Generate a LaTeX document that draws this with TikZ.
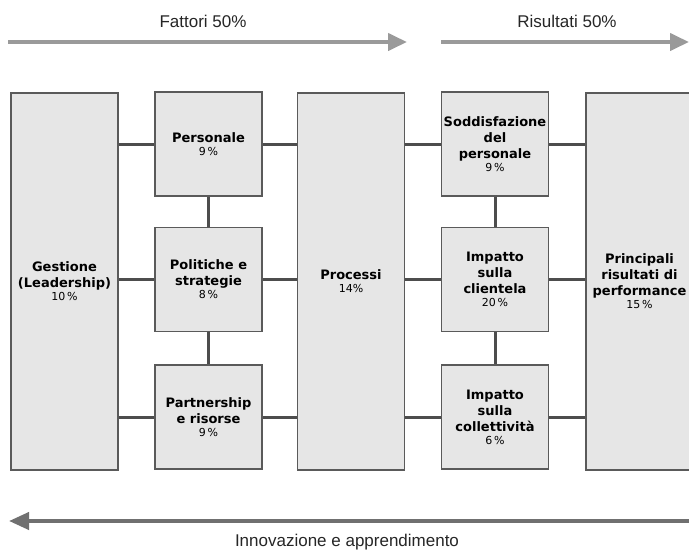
\documentclass[tikz,border=0pt]{standalone}
\usepackage{fontspec}
\setmainfont{Liberation Sans}
\newfontfamily\boxfont{DejaVu Sans}
\usetikzlibrary{arrows.meta}
\definecolor{boxfill}{HTML}{E6E6E6}
\definecolor{boxline}{HTML}{5A5A5A}
\definecolor{linkcol}{HTML}{4D4D4D}
\definecolor{toparrowcol}{HTML}{9A9A9A}
\definecolor{botarrowcol}{HTML}{707070}
\newcommand\pcfont{\mdseries\fontsize{11}{13}\selectfont}
\begin{document}
\begin{tikzpicture}[x=1pt,y=-1pt,
  box/.style={draw=boxline, line width=1.5pt, fill=boxfill, minimum width=107pt,
    inner sep=0pt, align=center, font=\boxfont\bfseries\fontsize{13}{16}\selectfont},
  smallbox/.style={box, minimum height=104pt},
  bigbox/.style={box, minimum height=377pt},
  link/.style={draw=linkcol, line width=3pt},
  toparrow/.style={draw=toparrowcol, line width=4pt, -{Triangle[length=19pt,width=17pt]}},
  botarrow/.style={draw=botarrowcol, line width=4pt, -{Triangle[length=20pt,width=17pt]}},
  lbl/.style={font=\fontsize{17}{20}\selectfont, text=black!85}
]
\useasboundingbox (0,0) rectangle (689,552);
\clip (0,0) rectangle (689,552);
\fill[white] (0,0) rectangle (689,552);

% top arrows
\coordinate (f1) at (8,42);
\coordinate (f2) at (407,42);
\coordinate (r1) at (441,42);
\coordinate (r2) at (689,42);
\draw[toparrow] (f1) -- (f2);
\draw[toparrow] (r1) -- (r2);
\node[lbl] (fatt) at (203,21) {Fattori 50\%};
\node[lbl] (ris) at (567,21) {Risultati 50\%};

% boxes
\node[bigbox] (gest) at (64.5,281.5) {Gestione\\(Leadership)\\[-3pt]{\pcfont 10\,\%}};
\node[smallbox] (pers) at (208.5,144) {Personale\\[-3pt]{\pcfont 9\,\%}};
\node[smallbox] (pol) at (208.5,279.5) {Politiche e\\strategie\\[-3pt]{\pcfont 8\,\%}};
\node[smallbox] (part) at (208.5,417) {Partnership\\e risorse\\[-3pt]{\pcfont 9\,\%}};
\node[bigbox] (proc) at (351,281.5) {Processi\\[-3pt]{\pcfont 14\%}};
\node[smallbox] (sodd) at (495,144) {Soddisfazione\\del\\personale\\[-3pt]{\pcfont 9\,\%}};
\node[smallbox] (clien) at (495,279.5) {Impatto\\sulla\\clientela\\[-3pt]{\pcfont 20\,\%}};
\node[smallbox] (coll) at (495,417) {Impatto\\sulla\\collettività\\[-3pt]{\pcfont 6\,\%}};
\node[bigbox] (princ) at (639.5,281.5) {Principali\\risultati di\\performance\\[-3pt]{\pcfont 15\,\%}};

% connectors
\draw[link] (gest.east |- pers) -- (pers.west);
\draw[link] (gest.east |- pol) -- (pol.west);
\draw[link] (gest.east |- part) -- (part.west);
\draw[link] (pers.east) -- (proc.west |- pers);
\draw[link] (pol.east) -- (proc.west |- pol);
\draw[link] (part.east) -- (proc.west |- part);
\draw[link] (pers.south) -- (pol.north);
\draw[link] (pol.south) -- (part.north);
\draw[link] (proc.east |- sodd) -- (sodd.west);
\draw[link] (proc.east |- clien) -- (clien.west);
\draw[link] (proc.east |- coll) -- (coll.west);
\draw[link] (sodd.east) -- (princ.west |- sodd);
\draw[link] (clien.east) -- (princ.west |- clien);
\draw[link] (coll.east) -- (princ.west |- coll);
\draw[link] (sodd.south) -- (clien.north);
\draw[link] (clien.south) -- (coll.north);

% bottom arrow
\coordinate (i1) at (689,521);
\coordinate (i2) at (9,521);
\draw[botarrow] (i1) -- (i2);
\node[lbl] (innov) at (347,542) {Innovazione e apprendimento};
\end{tikzpicture}
\end{document}
